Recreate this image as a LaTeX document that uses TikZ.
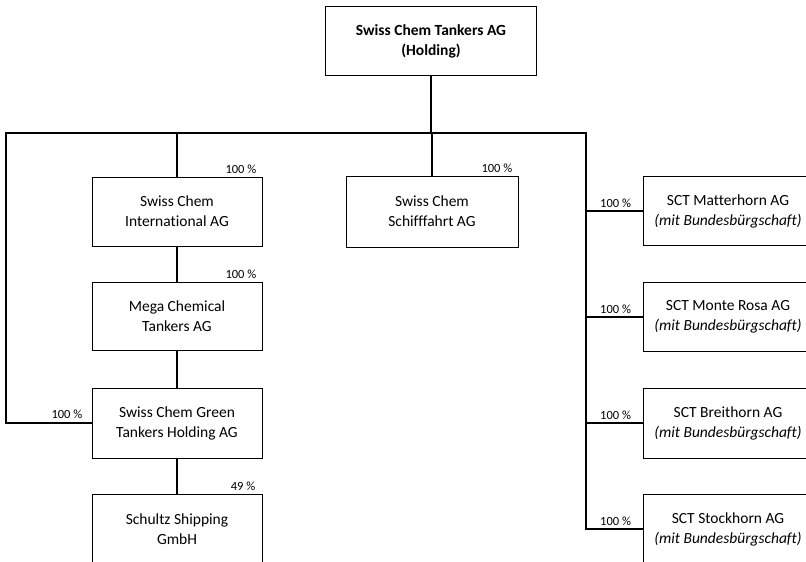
\documentclass[tikz,border=0pt]{standalone}
\usepackage{fontspec}
\setmainfont{Carlito}[Ligatures=NoCommon]
\begin{document}
\begin{tikzpicture}[x=1pt,y=-1pt,
  box/.style={draw=black, line width=1pt, fill=white, minimum width=170, minimum height=69, align=center, inner sep=0pt,
    font=\fontsize{15.5}{20}\selectfont},
  conn/.style={draw=black, line width=1.8pt},
  pct/.style={font=\fontsize{12.5}{13}\selectfont, inner sep=0pt}]
\useasboundingbox (0,0) rectangle (806,562);
\clip (0,0) rectangle (806,562);
\fill[white] (0,0) rectangle (806,562);
\coordinate (bl) at (6,133);
\coordinate (br) at (586,133);
\node[box, minimum width=211, minimum height=69, font=\fontsize{15.5}{20}\selectfont\bfseries] (top) at (431,41) {Swiss Chem Tankers AG\\(Holding)};
\node[box] (sci) at (177,211.5) {Swiss Chem\\International AG};
\node[box, minimum height=68] (mega) at (177,316) {Mega Chemical\\Tankers AG};
\node[box, minimum height=70] (gt) at (177,423) {Swiss Chem Green\\Tankers Holding AG};
\node[box, minimum height=70] (sch) at (177,529) {Schultz Shipping\\GmbH};
\node[box, minimum width=172, minimum height=71] (sf) at (432,211.5) {Swiss Chem\\Schifffahrt AG};
\node[box] (mat) at (728,211) {SCT Matterhorn AG\\\textit{(mit Bundesbürgschaft)}};
\node[box] (mon) at (728,317) {SCT Monte Rosa AG\\\textit{(mit Bundesbürgschaft)}};
\node[box, minimum height=70] (bre) at (728,423) {SCT Breithorn AG\\\textit{(mit Bundesbürgschaft)}};
\node[box, minimum height=70] (sto) at (728,529) {SCT Stockhorn AG\\\textit{(mit Bundesbürgschaft)}};
\draw[conn] (top.south) -- (top.south |- bl);
\draw[conn] (gt.west) -| (bl) -- (br) |- (sto.west);
\draw[conn] (sci.north) -- (sci.north |- bl);
\draw[conn] (sf.north) -- (sf.north |- bl);
\draw[conn] (sci.south) -- (mega.north);
\draw[conn] (mega.south) -- (gt.north);
\draw[conn] (gt.south) -- (sch.north);
\draw[conn] (mat.west) -- (mat.west -| br);
\draw[conn] (mon.west) -- (mon.west -| br);
\draw[conn] (bre.west) -- (bre.west -| br);
\node[pct, anchor=south east] (l1) at ([xshift=-6,yshift=3]sci.north east) {100 \%};
\node[pct, anchor=south east] (l2) at ([xshift=-6,yshift=3]mega.north east) {100 \%};
\node[pct, anchor=south east] (l3) at ([xshift=-6,yshift=3]sf.north east) {100 \%};
\node[pct, anchor=south east] (l4) at ([xshift=-7,yshift=3]sch.north east) {49 \%};
\node[pct, anchor=south east] (l5) at ([xshift=-9,yshift=4]gt.west) {100 \%};
\node[pct, anchor=south west] (l6) at ([xshift=14,yshift=3]mat.west -| br) {100 \%};
\node[pct, anchor=south west] (l7) at ([xshift=14,yshift=3]mon.west -| br) {100 \%};
\node[pct, anchor=south west] (l8) at ([xshift=14,yshift=3]bre.west -| br) {100 \%};
\node[pct, anchor=south west] (l9) at ([xshift=14,yshift=3]sto.west -| br) {100 \%};
\end{tikzpicture}
\end{document}
